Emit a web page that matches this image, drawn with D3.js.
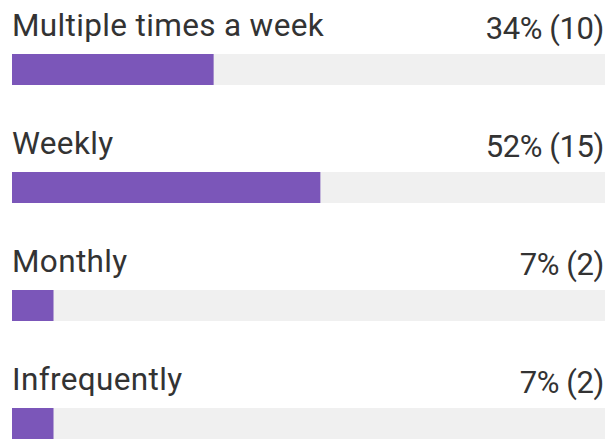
<!DOCTYPE html>
<html>
<head>
<meta charset="utf-8">
<script src="https://cdn.jsdelivr.net/npm/d3@7"></script>
<style>
  html, body { margin: 0; padding: 0; background: #fff; }
  svg { display: block; }
</style>
</head>
<body>
<svg id="chart" width="608" height="443"></svg>
<script>
// Survey answers: how often respondents do it
const categories = ["Multiple times a week", "Weekly", "Monthly", "Infrequently"];
const percents = [34, 52, 7, 7];
const counts = [10, 15, 2, 2];

const width = 608, height = 443;
const left = 12, right = 605;
const firstTop = 54, rowStep = 118, barH = 31;

const svg = d3.select("#chart");

const x = d3.scaleLinear().domain([0, 100]).range([left, right]);
const y = d3.scaleBand()
  .domain(categories)
  .range([firstTop, firstTop + rowStep * categories.length])
  .paddingInner(0).paddingOuter(0);

const rows = svg.selectAll("g.row")
  .data(categories.map((c, i) => ({ c, p: percents[i], n: counts[i] })))
  .join("g")
  .attr("class", "row")
  .attr("transform", d => `translate(0,${y(d.c)})`);

// background track
rows.append("rect")
  .attr("x", x(0))
  .attr("y", 0)
  .attr("width", x(100) - x(0))
  .attr("height", barH)
  .attr("fill", "#f0f0f0");

// value bar
rows.append("rect")
  .attr("x", x(0))
  .attr("y", 0)
  .attr("width", d => x(d.p) - x(0))
  .attr("height", barH)
  .attr("fill", "#7b56b9");

// category label
rows.append("text")
  .attr("x", left)
  .attr("y", -18)
  .attr("font-family", "Roboto, sans-serif")
  .attr("font-size", 31.5)
  .attr("letter-spacing", 0.35)
  .attr("fill", "#333")
  .text(d => d.c);

// percent and count
rows.append("text")
  .attr("x", right - 1)
  .attr("y", -15)
  .attr("text-anchor", "end")
  .attr("font-family", "Roboto, sans-serif")
  .attr("font-size", 31)
  .attr("letter-spacing", -0.4)
  .attr("fill", "#333")
  .text(d => `${d.p}% (${d.n})`);
</script>
</body>
</html>
